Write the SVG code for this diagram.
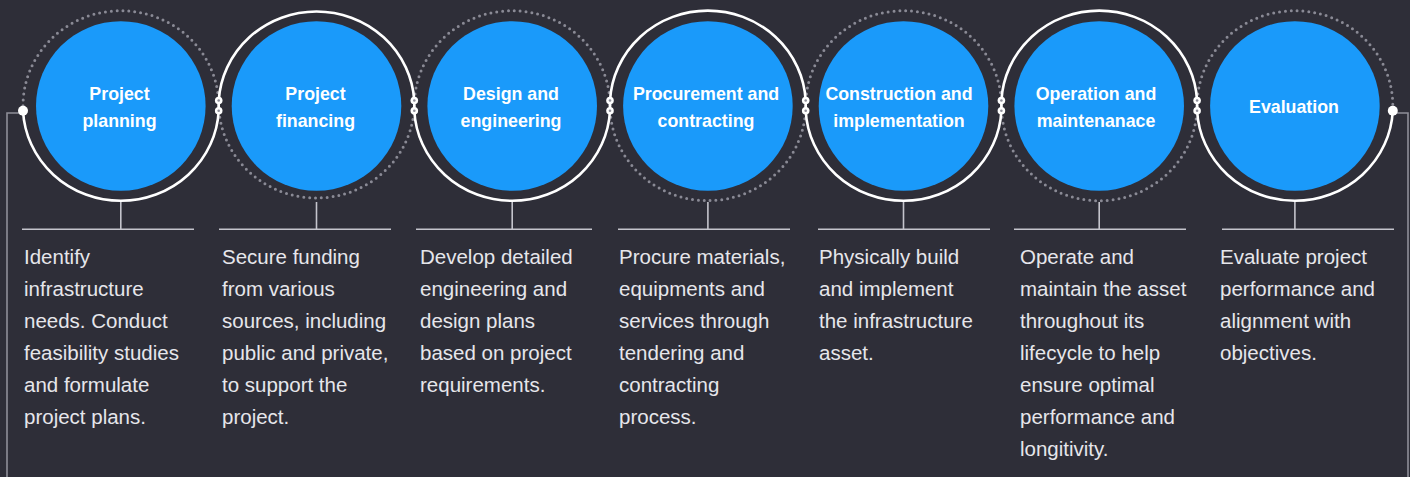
<svg xmlns="http://www.w3.org/2000/svg" width="1410" height="477" viewBox="0 0 1410 477">
  <style>
    .bg { fill: #2e2e38; }
    .disc { fill: #1a9afa; }
    .title { font-family: "Liberation Sans", Arial, sans-serif; font-weight: bold; font-size: 17.8px; fill: #ffffff; text-anchor: middle; }
    .desc { font-family: "Liberation Sans", Arial, sans-serif; font-size: 20.5px; fill: #e6e6eb; }
    .path-solid { fill: none; stroke: #ffffff; stroke-width: 2.6; }
    .path-dots { fill: none; stroke: #8a8a95; stroke-width: 3; stroke-linecap: round; stroke-dasharray: 0 5.9; }
    .stem { stroke: #c4c4cc; stroke-width: 1.6; fill: none; }
    .rail { stroke: #8e8e98; stroke-width: 1.6; fill: none; }
    .joint { fill: #ffffff; }
    .joint-core { fill: #8e8e99; }
  </style>

  <rect class="bg" x="0" y="0" width="1410" height="477"/>

  <g id="connectors">
    <!-- outer side rails -->
    <polyline class="rail" points="23,113 7,113 7,477"/>
    <polyline class="rail" points="1393,113 1408,113 1408,477"/>

    <!-- dotted halves of each ring (centre line y = 105.7) -->
    <path class="path-dots" d="M23,105.7 A97.84,95 0 0 1 218.7,105.7"/>
    <path class="path-dots" d="M218.7,105.7 A97.84,95 0 0 0 414.3,105.7"/>
    <path class="path-dots" d="M414.3,105.7 A97.84,95 0 0 1 610,105.7"/>
    <path class="path-dots" d="M610,105.7 A97.84,95 0 0 0 805.7,105.7"/>
    <path class="path-dots" d="M805.7,105.7 A97.84,95 0 0 1 1001.4,105.7"/>
    <path class="path-dots" d="M1001.4,105.7 A97.84,95 0 0 0 1197.1,105.7"/>
    <path class="path-dots" d="M1197.1,105.7 A97.84,95 0 0 1 1392.8,105.7"/>

    <!-- continuous solid line weaving through the rings -->
    <path class="path-solid" d="M23,110.7 A97.98,95 0 0 0 218.7,110.7 L218.7,100.7 A97.98,95 0 0 1 414.3,100.7 L414.3,110.7 A97.98,95 0 0 0 610,110.7 L610,100.7 A97.98,95 0 0 1 805.7,100.7 L805.7,110.7 A97.98,95 0 0 0 1001.4,110.7 L1001.4,100.7 A97.98,95 0 0 1 1197.1,100.7 L1197.1,110.7 A97.98,95 0 0 0 1392.8,110.7"/>

    <!-- stems and underlines -->
    <path class="stem" d="M120.8,202 V229.3 M22,229.3 H194"/>
    <path class="stem" d="M316.5,202 V229.3 M219,229.3 H391"/>
    <path class="stem" d="M512.2,202 V229.3 M416,229.3 H592"/>
    <path class="stem" d="M707.9,202 V229.3 M618,229.3 H790"/>
    <path class="stem" d="M903.5,202 V229.3 M818,229.3 H990"/>
    <path class="stem" d="M1099.2,202 V229.3 M1014,229.3 H1186"/>
    <path class="stem" d="M1294.9,202 V229.3 M1222,229.3 H1394"/>

    <!-- end points -->
    <circle class="joint" cx="23" cy="110.7" r="5"/>
    <circle class="joint" cx="1392.8" cy="110.7" r="5"/>

    <!-- paired joints between rings -->
    <g id="joints">
      <circle class="joint" cx="218.7" cy="100.5" r="3.8"/><circle class="joint-core" cx="218.7" cy="100.5" r="1.3"/>
      <circle class="joint" cx="218.7" cy="110.7" r="3.8"/><circle class="joint-core" cx="218.7" cy="110.7" r="1.3"/>
      <circle class="joint" cx="414.3" cy="100.5" r="3.8"/><circle class="joint-core" cx="414.3" cy="100.5" r="1.3"/>
      <circle class="joint" cx="414.3" cy="110.7" r="3.8"/><circle class="joint-core" cx="414.3" cy="110.7" r="1.3"/>
      <circle class="joint" cx="610" cy="100.5" r="3.8"/><circle class="joint-core" cx="610" cy="100.5" r="1.3"/>
      <circle class="joint" cx="610" cy="110.7" r="3.8"/><circle class="joint-core" cx="610" cy="110.7" r="1.3"/>
      <circle class="joint" cx="805.7" cy="100.5" r="3.8"/><circle class="joint-core" cx="805.7" cy="100.5" r="1.3"/>
      <circle class="joint" cx="805.7" cy="110.7" r="3.8"/><circle class="joint-core" cx="805.7" cy="110.7" r="1.3"/>
      <circle class="joint" cx="1001.4" cy="100.5" r="3.8"/><circle class="joint-core" cx="1001.4" cy="100.5" r="1.3"/>
      <circle class="joint" cx="1001.4" cy="110.7" r="3.8"/><circle class="joint-core" cx="1001.4" cy="110.7" r="1.3"/>
      <circle class="joint" cx="1197.1" cy="100.5" r="3.8"/><circle class="joint-core" cx="1197.1" cy="100.5" r="1.3"/>
      <circle class="joint" cx="1197.1" cy="110.7" r="3.8"/><circle class="joint-core" cx="1197.1" cy="110.7" r="1.3"/>
    </g>
  </g>

  <g id="step-planning">
    <circle class="disc" cx="120.8" cy="106" r="84.8"/>
    <text class="title" x="119.5" y="100">Project</text>
    <text class="title" x="119.5" y="127">planning</text>
    <text class="desc" x="24" y="264">Identify<tspan x="24" dy="32">infrastructure</tspan><tspan x="24" dy="32">needs. Conduct</tspan><tspan x="24" dy="32">feasibility studies</tspan><tspan x="24" dy="32">and formulate</tspan><tspan x="24" dy="32">project plans.</tspan></text>
  </g>

  <g id="step-financing">
    <circle class="disc" cx="316.5" cy="106" r="84.8"/>
    <text class="title" x="315.5" y="100">Project</text>
    <text class="title" x="315.5" y="127">financing</text>
    <text class="desc" x="222" y="264">Secure funding<tspan x="222" dy="32">from various</tspan><tspan x="222" dy="32">sources, including</tspan><tspan x="222" dy="32">public and private,</tspan><tspan x="222" dy="32">to support the</tspan><tspan x="222" dy="32">project.</tspan></text>
  </g>

  <g id="step-design">
    <circle class="disc" cx="512.2" cy="106" r="84.8"/>
    <text class="title" x="511" y="100">Design and</text>
    <text class="title" x="511" y="127">engineering</text>
    <text class="desc" x="420" y="264">Develop detailed<tspan x="420" dy="32">engineering and</tspan><tspan x="420" dy="32">design plans</tspan><tspan x="420" dy="32">based on project</tspan><tspan x="420" dy="32">requirements.</tspan></text>
  </g>

  <g id="step-procurement">
    <circle class="disc" cx="707.9" cy="106" r="84.8"/>
    <text class="title" x="706" y="100">Procurement and</text>
    <text class="title" x="706" y="127">contracting</text>
    <text class="desc" x="619" y="264">Procure materials,<tspan x="619" dy="32">equipments and</tspan><tspan x="619" dy="32">services through</tspan><tspan x="619" dy="32">tendering and</tspan><tspan x="619" dy="32">contracting</tspan><tspan x="619" dy="32">process.</tspan></text>
  </g>

  <g id="step-construction">
    <circle class="disc" cx="903.5" cy="106" r="84.8"/>
    <text class="title" x="899" y="100">Construction and</text>
    <text class="title" x="899" y="127">implementation</text>
    <text class="desc" x="819" y="264">Physically build<tspan x="819" dy="32">and implement</tspan><tspan x="819" dy="32">the infrastructure</tspan><tspan x="819" dy="32">asset.</tspan></text>
  </g>

  <g id="step-operation">
    <circle class="disc" cx="1099.2" cy="106" r="84.8"/>
    <text class="title" x="1096" y="100">Operation and</text>
    <text class="title" x="1096" y="127">maintenanace</text>
    <text class="desc" x="1020" y="264">Operate and<tspan x="1020" dy="32">maintain the asset</tspan><tspan x="1020" dy="32">throughout its</tspan><tspan x="1020" dy="32">lifecycle to help</tspan><tspan x="1020" dy="32">ensure optimal</tspan><tspan x="1020" dy="32">performance and</tspan><tspan x="1020" dy="32">longitivity.</tspan></text>
  </g>

  <g id="step-evaluation">
    <circle class="disc" cx="1294.9" cy="106" r="84.8"/>
    <text class="title" x="1294" y="113">Evaluation</text>
    <text class="desc" x="1220" y="264">Evaluate project<tspan x="1220" dy="32">performance and</tspan><tspan x="1220" dy="32">alignment with</tspan><tspan x="1220" dy="32">objectives.</tspan></text>
  </g>
</svg>
